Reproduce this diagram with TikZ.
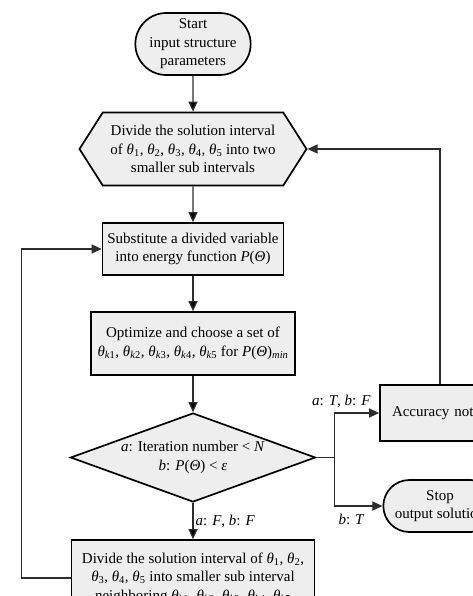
\documentclass[tikz,border=0pt]{standalone}
\usepackage{fontspec}
\setmainfont{Liberation Serif}
\usetikzlibrary{arrows.meta,shapes.geometric,shapes.misc,shapes.symbols,calc}
\definecolor{boxfill}{RGB}{238,238,238}
\definecolor{linegray}{RGB}{45,45,45}
\newcommand{\vth}[1]{\textit{θ}\textsubscript{#1}}
\newcommand{\kth}[1]{\textit{θ}\textsubscript{\textit{k}#1}}

\begin{document}
\begin{tikzpicture}
[->,>={Triangle[length=10pt,width=9pt]},node distance=100pt,font=\fontsize{15pt}{18.5pt}\selectfont]\tikzstyle{block}
=[rectangle,draw=black,fill=boxfill,line width=1.7pt,align=center]
\tikzstyle{term}=[rounded rectangle,draw=black,fill=boxfill,line width=1.7pt,align=center]
\tikzstyle{hexa}=[signal,signal to=west and east,signal pointer angle=115,draw=black,fill=boxfill,line width=1.7pt,align=center]
\tikzstyle{decide}=[diamond,aspect=2.75,draw=black,fill=boxfill,line width=1.7pt,align=center,inner sep=0pt]
\tikzstyle{flow}=[draw=linegray,line width=1.3pt]
\tikzstyle{lbl}=[inner sep=2pt]

\path[-,use as bounding box,clip] (-193pt,44pt) rectangle (280pt,-552pt);

\node[term,minimum width=122pt,minimum height=62pt] (start) {Start\\input structure\\parameters};
\node[hexa,minimum width=227pt,minimum height=73pt] (hex) [below of=start,node distance=105pt] {Divide the solution interval\\of \vth1, \vth2, \vth3, \vth4, \vth5 into two\\smaller sub intervals};
\node[block,minimum width=181pt,minimum height=52pt] (sub) [below of=hex] {Substitute a divided variable\\into energy function \textit{P}(\textit{Θ})};
\node[block,minimum width=204pt,minimum height=63pt] (opt) [below of=sub,node distance=94.5pt] {Optimize and choose a set of\\\kth1, \kth2, \kth3, \kth4, \kth5 for \textit{P}(\textit{Θ})\textsubscript{\textit{min}}};
\node[decide,minimum width=245pt,minimum height=89pt] (dec) [below of=opt,node distance=114pt] {\textit{a}: Iteration number < \textit{N}\\\textit{b}: \textit{P}(\textit{Θ}) < \textit{ε}};
\node[block,minimum width=243pt,minimum height=76pt] (div) [below of=dec,node distance=120.5pt] {Divide the solution interval of \vth1, \vth2,\\\vth3, \vth4, \vth5 into smaller sub interval\\neighboring \kth1, \kth2, \kth3, \kth4, \kth5};
\node[block,minimum width=120pt,minimum height=56pt,text width=96pt,align=left] (acc) [right of=dec,node distance=247pt,yshift=44.5pt] {Accuracy not};
\node[term,minimum width=120pt,minimum height=52pt] (stop) [right of=dec,node distance=247pt,yshift=-48.5pt] {Stop\\output solution};

\coordinate (fork) at ($(dec.east)+(18pt,0)$);

\path[flow]
(start) edge (hex)

(hex) edge (sub)

(sub) edge (opt)

(opt) edge (dec)

(dec) edge node[lbl,right] {\textit{a}: \textit{F}, \textit{b}: \textit{F}} (div)
;
\draw[flow] (dec.east) -- (fork) |- (acc.west);
\draw[flow] (fork) |- (stop.west);
\draw[flow] (acc.north) |- (hex.east);
\draw[flow] (div.west) -- ++(-49pt,0) |- (sub.west);

\node[lbl,anchor=south] (tf) at ($(fork |- acc.west)+(7pt,3pt)$) {\textit{a}: \textit{T}, \textit{b}: \textit{F}};
\node[lbl,anchor=north west] (bt) at ($(fork |- stop.west)+(2pt,-6pt)$) {\textit{b}: \textit{T}};
\end{tikzpicture}
\end{document}
